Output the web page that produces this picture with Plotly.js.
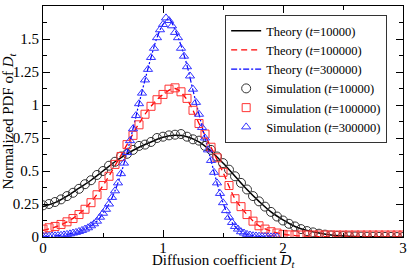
<!DOCTYPE html>
<html><head><meta charset="utf-8">
<script src="https://cdn.plot.ly/plotly-3.0.1.min.js"></script>
<style>html,body{margin:0;padding:0;background:#fff}</style>
</head><body><div id="chart" style="width:409px;height:268px"></div>
<script>
// Theory curves
const theoryStep1 = 0.1;
const theory10000 = [0.23,0.26,0.31,0.37,0.43,0.50,0.57,0.63,0.68,0.72,0.755,0.77,0.76,0.72,0.65,0.56,0.46,0.36,0.27,0.19,0.13,0.08,0.05,0.03,0.015,0.008,0.004,0.002,0.001,0,0];
const theory100000 = [0.05,0.075,0.115,0.175,0.265,0.39,0.54,0.70,0.86,0.99,1.08,1.125,1.04,0.86,0.68,0.49,0.29,0.17,0.085,0.045,0.022,0.011,0.006,0.003,0.002,0.001,0.001,0,0,0,0];
const theoryStep3 = 0.05;
const theory300000 = [0.002,0.004,0.008,0.013,0.02,0.03,0.042,0.06,0.085,0.12,0.18,0.25,0.35,0.48,0.64,0.82,1.01,1.19,1.36,1.51,1.61,1.65,1.57,1.45,1.30,1.11,0.93,0.75,0.58,0.41,0.26,0.15,0.08,0.04,0.02,0.01,0.005,0.002,0.001];
// Simulation points
const simStep12 = 0.05;
const sim10000 = [0.24,0.25,0.265,0.285,0.31,0.335,0.365,0.40,0.43,0.47,0.50,0.54,0.57,0.61,0.63,0.66,0.69,0.70,0.72,0.75,0.76,0.77,0.775,0.78,0.76,0.74,0.73,0.69,0.66,0.61,0.56,0.51,0.46,0.41,0.36,0.31,0.27,0.23,0.19,0.155,0.125,0.10,0.08,0.06,0.045,0.035,0.025,0.018,0.012,0.009,0.007,0.005,0.004,0.003,0.002,0.002,0.001,0.001,0.001,0,0];
const sim100000 = [0.06,0.07,0.08,0.095,0.115,0.14,0.17,0.21,0.26,0.32,0.39,0.46,0.55,0.61,0.70,0.77,0.85,0.93,0.99,1.04,1.08,1.12,1.13,1.10,1.05,0.96,0.86,0.78,0.68,0.60,0.49,0.39,0.29,0.23,0.17,0.12,0.085,0.06,0.04,0.03,0.02,0.016,0.015,0.015,0.015,0.015,0.015,0.015,0.015,0.015,0.015,0.015,0.015,0.015,0.015,0.015,0.015,0.015,0.015,0.015,0.015];
const simStep3 = 0.025;
const sim300000 = [0.004,0.005,0.006,0.008,0.009,0.011,0.013,0.016,0.02,0.024,0.03,0.035,0.042,0.05,0.06,0.07,0.085,0.10,0.12,0.15,0.18,0.21,0.25,0.30,0.35,0.41,0.48,0.56,0.64,0.73,0.82,0.92,1.01,1.09,1.19,1.27,1.36,1.43,1.51,1.57,1.61,1.66,1.64,1.60,1.55,1.51,1.43,1.37,1.29,1.22,1.12,1.02,0.93,0.83,0.75,0.66,0.58,0.49,0.41,0.33,0.26,0.20,0.15,0.11,0.08,0.06,0.04,0.03,0.02,0.015,0.01,0.008,0.006,0.004,0.003,0.002,0.001,0.001,0];
const xTickVals = [0,1,2,3];
const yTickVals = [0,0.25,0.5,0.75,1,1.25,1.5,1.75];
const xTitle = 'Diffusion coefficient <i>D</i><sub><i>t</i></sub>';
const yTitle = 'Normalized PDF of <i>D</i><sub><i>t</i></sub>';

function grid(n, step){ const a=[]; for(let i=0;i<n;i++) a.push(+(i*step).toFixed(4)); return a; }
const F = 'Liberation Serif, Times New Roman, serif';

const traces = [
  {x: grid(theory10000.length, theoryStep1), y: theory10000, mode:'lines', name:'Theory (<i>t</i>=10000)',
   line:{color:'#000', width:1.5, shape:'spline'}},
  {x: grid(theory100000.length, theoryStep1), y: theory100000, mode:'lines', name:'Theory (<i>t</i>=100000)',
   line:{color:'#ff0000', width:1.3, dash:'6px,4px', shape:'spline'}},
  {x: grid(theory300000.length, theoryStep3), y: theory300000, mode:'lines', name:'Theory (<i>t</i>=300000)',
   line:{color:'#0000ff', width:1.2, dash:'6px,2px,2px,2px', shape:'spline'}},
  {x: grid(sim10000.length, simStep12), y: sim10000, mode:'markers', name:'Simulation (<i>t</i>=10000)',
   marker:{symbol:'circle-open', size:9, color:'#333', line:{width:1}}},
  {x: grid(sim100000.length, simStep12), y: sim100000, mode:'markers', name:'Simulation (<i>t</i>=100000)',
   marker:{symbol:'square-open', size:8, color:'#ff3333', line:{width:1}}},
  {x: grid(sim300000.length, simStep3), y: sim300000, mode:'markers', name:'Simulation (<i>t</i>=300000)',
   marker:{symbol:'triangle-up-open', size:8, color:'#3333ff', line:{width:1}}}
];

const axisCommon = {showline:true, linecolor:'#000', linewidth:1, mirror:'ticks', ticks:'inside',
  ticklen:7, tickcolor:'#000', showgrid:false, zeroline:false, tickfont:{family:F, size:15, color:'#000'}};

const layout = {
  width:409, height:268, margin:{l:43, r:6, t:6, b:31},
  paper_bgcolor:'#fff', plot_bgcolor:'#fff', font:{family:F, color:'#000'},
  showlegend:true,
  xaxis: Object.assign({}, axisCommon, {range:[0,3], tickvals:xTickVals, ticktext:xTickVals.map(String),
    automargin:false, ticklabelstandoff:-3,
    minor:{dtick:0.5, ticks:'inside', ticklen:4, tickcolor:'#000'}}),
  yaxis: Object.assign({}, axisCommon, {range:[0,1.75], tickvals:yTickVals, ticktext:yTickVals.map(String),
    automargin:false,
    minor:{dtick:0.125, ticks:'inside', ticklen:4, tickcolor:'#000'},
    title:{text:yTitle, font:{family:F, size:15, color:'#000'}, standoff:2}}),
  annotations:[{text:xTitle, xref:'paper', yref:'paper', x:0.5, y:-0.102, xanchor:'center', yanchor:'middle',
    showarrow:false, font:{family:F, size:15, color:'#000'}}],
  legend:{x:0.506, y:0.961, xanchor:'left', yanchor:'top', bgcolor:'#fff', bordercolor:'#333', borderwidth:1,
    font:{family:F, size:12.5, color:'#000'}, tracegroupgap:0, itemwidth:30}
};

Plotly.newPlot('chart', traces, layout, {staticPlot:true, displayModeBar:false});
</script></body></html>
